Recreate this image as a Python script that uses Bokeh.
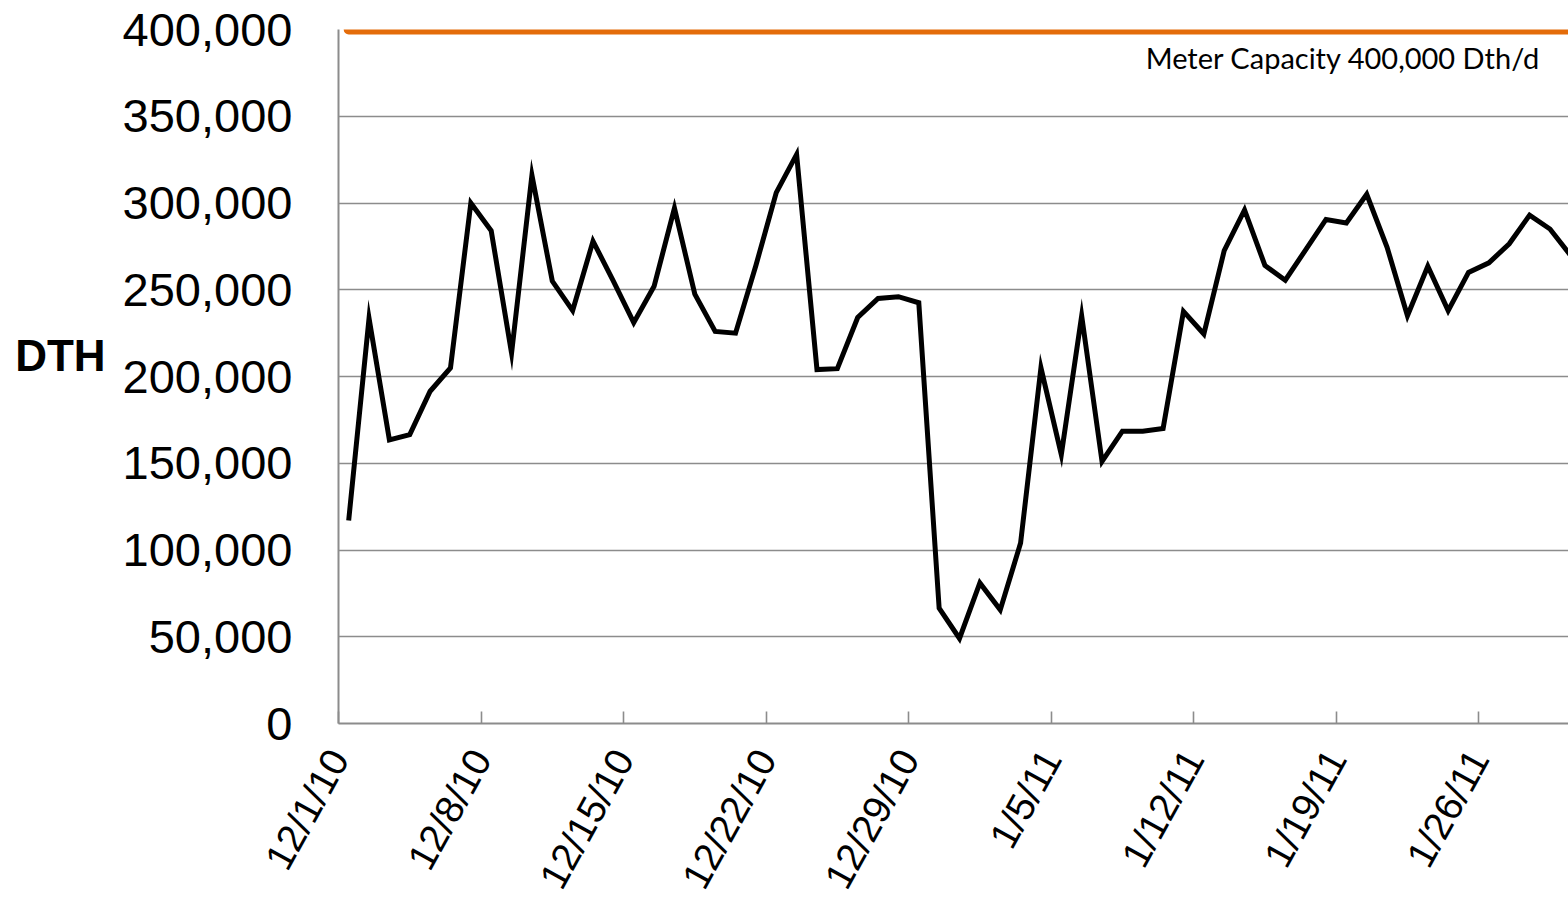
import math

from bokeh.embed import file_html
from bokeh.models import ColumnDataSource, FixedTicker, Label, Range1d
from bokeh.plotting import figure
from bokeh.resources import INLINE

# Daily deliveries through the meter, Dec 1 2010 onward (Dth/d)
START_DATE = "12/1/10"
DAILY_DTH = [
    117000, 233500, 163500, 166500, 191500, 205000, 300000, 284000, 213500, 316000,
    255000, 238000, 278000, 255000, 231000, 252000, 297000, 247500, 226000, 225000,
    264000, 306000, 328000, 204000, 204500, 234000, 245000, 246000, 242500, 66500,
    49000, 81000, 65500, 104000, 205000, 155000, 235000, 151000, 168500, 168500,
    170000, 237500, 224500, 272500, 296000, 264000, 255500, 273000, 290500, 288500,
    305000, 274500, 235000, 263500, 238000, 260000, 265500, 276500, 293000, 285000,
    270000,
]
METER_CAPACITY = 400000

# Weekly date ticks (days after the start date) and their labels
TICK_DAYS = [0, 7, 14, 21, 28, 35, 42, 49, 56]
TICK_LABELS = ["12/1/10", "12/8/10", "12/15/10", "12/22/10", "12/29/10",
               "1/5/11", "1/12/11", "1/19/11", "1/26/11"]
Y_TICKS = [0, 50000, 100000, 150000, 200000, 250000, 300000, 350000, 400000]

# each day's value sits in the middle of its day slot
day_centers = [i + 0.5 for i in range(len(DAILY_DTH))]
source = ColumnDataSource(dict(
    x=day_centers,
    dth=DAILY_DTH,
    cap=[METER_CAPACITY] * len(DAILY_DTH),
))

GRID_GRAY = "#8c8c8c"
X_END = 60.41

p = figure(
    width=1568, height=910,
    x_range=Range1d(0, X_END), y_range=Range1d(0, 400000),
    output_backend="svg", toolbar_location=None,
    min_border_left=338, min_border_right=0,
    min_border_top=29, min_border_bottom=187,
)
p.outline_line_color = None
p.background_fill_color = "white"
p.border_fill_color = "white"

# grid
p.xgrid.grid_line_color = None
p.ygrid.grid_line_color = GRID_GRAY
p.ygrid.grid_line_width = 1.6
p.ygrid.ticker = FixedTicker(ticks=Y_TICKS)

# y axis
p.yaxis.ticker = FixedTicker(ticks=Y_TICKS)
p.yaxis.major_label_overrides = {v: f"{v:,}" for v in Y_TICKS}
p.yaxis.axis_line_color = GRID_GRAY
p.yaxis.axis_line_width = 2
p.yaxis.major_tick_line_color = None
p.yaxis.minor_tick_line_color = None
p.yaxis.major_label_standoff = 40
p.yaxis.major_label_text_font = "Liberation Sans"
p.yaxis.major_label_text_font_size = "47px"
p.yaxis.major_label_text_color = "black"
# the trailing empty line lifts "DTH" a little above the frame's middle
p.yaxis.axis_label = "DTH\n"
p.yaxis.axis_label_orientation = "horizontal"
p.yaxis.axis_label_standoff = 14
p.yaxis.axis_label_text_font = "Liberation Sans"
p.yaxis.axis_label_text_font_style = "bold"
p.yaxis.axis_label_text_font_size = "44px"
p.yaxis.axis_label_text_line_height = 0.85
p.yaxis.axis_label_text_color = "black"

# x axis
p.xaxis.ticker = FixedTicker(ticks=TICK_DAYS)
p.xaxis.major_label_overrides = dict(zip(TICK_DAYS, TICK_LABELS))
p.xaxis.axis_line_color = GRID_GRAY
p.xaxis.axis_line_width = 2
p.xaxis.major_tick_line_color = GRID_GRAY
p.xaxis.major_tick_line_width = 1.6
p.xaxis.major_tick_in = 12
p.xaxis.major_tick_out = 0
p.xaxis.minor_tick_line_color = None
p.xaxis.major_label_orientation = math.radians(61)
p.xaxis.major_label_standoff = 29
p.xaxis.major_label_text_font = "Liberation Sans"
p.xaxis.major_label_text_font_size = "39px"
p.xaxis.major_label_text_color = "black"

# meter capacity and daily flow
p.line("x", "cap", source=source, line_color="#E46C0A", line_width=10,
       line_cap="round")
p.line("x", "dth", source=source, line_color="black", line_width=5,
       line_join="miter")

p.add_layout(Label(
    x=X_END, y=400000, x_offset=-28, y_offset=-28,
    text=f"Meter Capacity {METER_CAPACITY:,} Dth/d",
    text_align="right", text_baseline="alphabetic",
    text_font="Lato", text_font_size="29px", text_color="black",
))

open("out.html", "w").write(file_html(p, INLINE))
